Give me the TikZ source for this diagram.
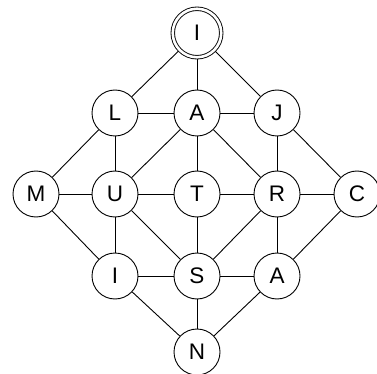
\documentclass[tikz,border=0pt]{standalone}
\usepackage{fontspec}
\setmainfont{Liberation Sans}
\begin{document}
\begin{tikzpicture}[x=1pt,y=-1pt,
  vtx/.style={circle,draw,line width=0.9pt,minimum size=46pt,inner sep=0pt,fill=white,font=\fontsize{22.5}{22.5}\selectfont},
  root/.style={vtx,minimum size=48.5pt,double,double distance=2.6pt,outer sep=1.75pt},
  edge/.style={line width=0.9pt}]
\useasboundingbox (0,0) rectangle (377,374);
\node[root] (i1) at (197,33) {I};
\node[vtx] (l) at (115,113) {L};
\node[vtx] (a1) at (197,113) {A};
\node[vtx] (j) at (277,113) {J};
\node[vtx] (m) at (36,194) {M};
\node[vtx] (u) at (115,194) {U};
\node[vtx] (t) at (197,194) {T};
\node[vtx] (r) at (277,194) {R};
\node[vtx] (c) at (357,194) {C};
\node[vtx] (i2) at (115,276) {I};
\node[vtx] (s) at (197,276) {S};
\node[vtx] (a2) at (277,276) {A};
\node[vtx] (n) at (197,352) {N};
\foreach \p/\q in {i1/l,i1/a1,i1/j,l/a1,a1/j,l/m,l/u,a1/u,a1/t,a1/r,j/r,j/c,
  m/u,u/t,t/r,r/c,m/i2,u/i2,u/s,t/s,r/s,r/a2,c/a2,i2/s,s/a2,i2/n,s/n,a2/n}
  \draw[edge] (\p) -- (\q);
\end{tikzpicture}
\end{document}
